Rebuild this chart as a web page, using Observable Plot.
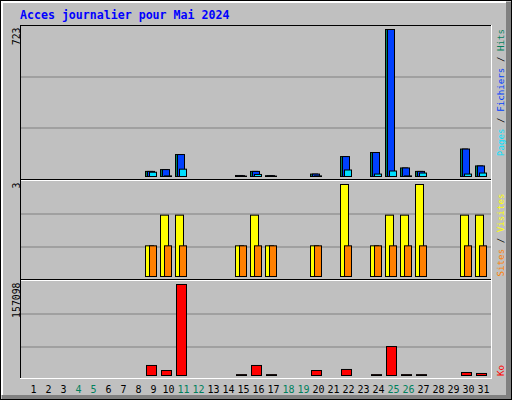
<!DOCTYPE html>
<html><head><meta charset="utf-8">
<script src="https://cdn.jsdelivr.net/npm/d3@7"></script>
<script src="https://cdn.jsdelivr.net/npm/@observablehq/plot@0.6"></script>
<style>
html,body{margin:0;padding:0;background:#fff;}
#chart{position:relative;width:512px;height:400px;background:#c0c0c0;overflow:hidden;}
#chart svg{position:absolute;left:0;top:0;background:transparent !important;overflow:visible;}
</style></head><body><div id="chart"></div>
<script>
// ---- data ----
const days   = d3.range(1, 32);
const hits   = [0,0,0,0,0,0,0,0,25,34,108,0,0,0,5,25,4,0,0,12,0,98,0,118,723,42,25,0,0,135,52];
const files  = [0,0,0,0,0,0,0,0,25,34,108,0,0,0,4,25,4,0,0,12,0,98,0,118,723,42,25,0,0,135,52];
const pages  = [0,0,0,0,0,0,0,0,21,3,36,0,0,0,2,10,2,0,0,3,0,32,0,12,27,3,17,0,0,12,17];
const visits = [0,0,0,0,0,0,0,0,1,2,2,0,0,0,1,2,1,0,0,1,0,3,0,1,2,2,3,0,0,2,2];
const sites  = [0,0,0,0,0,0,0,0,1,1,1,0,0,0,1,1,1,0,0,1,0,1,0,1,1,1,1,0,0,1,1];
const kbytes = [0,0,0,0,0,0,0,0,17300,8600,157098,0,0,0,1500,17300,1500,0,0,8600,0,10400,0,1500,50000,1500,1500,0,0,5200,3500];
const weekends = [4,5,11,12,18,19,25,26];
const titleText = "Acces journalier pour Mai 2024";
const maxLabels = ["723", "3", "157098"];
const seriesLabels = [["Pages", " / ", "Fichiers", " / ", "Hits"], ["Sites", " / ", "Visites"], ["Ko"]];

// ---- styles ----
const C = {hits:"#00805c", files:"#0040ff", pages:"#00e0ff", visits:"#ffff00", sites:"#ff8000", kbytes:"#ff0000", grid:"#808080", title:"#0000ff"};
const seriesColors = [[C.pages,"black",C.files,"black",C.hits],[C.sites,"black",C.visits],[C.kbytes]];
const MONO = "DejaVu Sans Mono";

const rows = days.map((day, i) => ({day, hits: hits[i], files: files[i], pages: pages[i], visits: visits[i], sites: sites[i], kbytes: kbytes[i]}));
const PX = 1 / 15; // one pixel in day units
function bar(key, from, to, fill) {
  return Plot.rect(rows.filter(d => d[key] > 0), {
    x1: d => d.day - 0.5 + from * PX,
    x2: d => d.day - 0.5 + to * PX,
    y1: () => 0, y2: key, fill, stroke: "black", strokeWidth: 1
  });
}

const chart = document.getElementById("chart");

// ---- decoration (frame, borders, title, series labels) ----
const deco = d3.create("svg").attr("width", 512).attr("height", 400);
deco.append("rect").attr("x", 506).attr("y", 2).attr("width", 6).attr("height", 398).attr("fill", "#808080");
deco.append("rect").attr("x", 2).attr("y", 395).attr("width", 510).attr("height", 5).attr("fill", "#808080");
deco.append("rect").attr("x", 1).attr("y", 1).attr("width", 505).attr("height", 2).attr("fill", "#ffffff");
deco.append("rect").attr("x", 1).attr("y", 1).attr("width", 2).attr("height", 394).attr("fill", "#ffffff");
deco.append("rect").attr("x", 0.5).attr("y", 0.5).attr("width", 511).attr("height", 399).attr("fill", "none").attr("stroke", "black");
const L = (x1, y1, x2, y2, c) => deco.append("line").attr("x1", x1).attr("y1", y1).attr("x2", x2).attr("y2", y2).attr("stroke", c).attr("stroke-width", 1);
L(20, 25.5, 492, 25.5, "black");
L(20.5, 25, 20.5, 379, "black");
L(491.5, 25, 491.5, 379, "white");
L(20, 378.5, 492, 378.5, "white");
L(21, 179.5, 491, 179.5, "black");
L(21, 180.5, 491, 180.5, "white");
L(21, 279.5, 491, 279.5, "black");
L(21, 280.5, 491, 280.5, "white");
deco.append("text").attr("x", 20).attr("y", 19).attr("fill", C.title)
  .attr("font-family", MONO).attr("font-weight", "bold").attr("font-size", 11.6).text(titleText);
const labelCenters = [92.5, 235, 370.5];
seriesLabels.forEach((parts, k) => {
  const t = deco.append("text").attr("transform", `translate(503.5,${labelCenters[k]}) rotate(-90)`)
    .attr("text-anchor", "middle").attr("font-family", MONO).attr("font-size", 9.2)
    .attr("xml:space", "preserve").style("white-space", "pre");
  parts.forEach((p, j) => t.append("tspan").attr("fill", seriesColors[k][j]).text(p));
});
chart.appendChild(deco.node());

// ---- panels ----
function panel({yMax, yRange, gridRows, top, bottom, label, marks, extra = []}) {
  const ys = d3.scaleLinear().domain([0, yMax]).range(yRange);
  return Plot.plot({
    width: 512, height: 400,
    marginTop: top, marginBottom: 400 - bottom, marginLeft: 21, marginRight: 21,
    style: {background: "transparent"},
    x: {domain: [0, 31], range: [18, 483], axis: null},
    y: {domain: [0, yMax], range: yRange, axis: null},
    marks: [
      Plot.ruleY(gridRows.map(r => ys.invert(r + 0.5)), {stroke: C.grid, strokeWidth: 1}),
      ...marks,
      Plot.text([label], {text: d => d, frameAnchor: "top-left", rotate: -90, textAnchor: "end", lineAnchor: "bottom",
        dx: -2, dy: 2, fontFamily: MONO, fontSize: 9.8, fill: "black"}),
      ...extra
    ]
  });
}

chart.appendChild(panel({
  yMax: d3.max(hits), yRange: [176.5, 29.5], gridRows: [76, 127], top: 25, bottom: 179, label: maxLabels[0],
  marks: [bar("hits", 0, 7, C.hits), bar("files", 2, 9, C.files), bar("pages", 4, 11, C.pages)]
}));
chart.appendChild(panel({
  yMax: d3.max(visits), yRange: [276.5, 184.5], gridRows: [213, 246], top: 180, bottom: 279, label: maxLabels[1],
  marks: [bar("visits", 0, 8, C.visits), bar("sites", 4, 11, C.sites)]
}));
const weekdays = days.filter(d => !weekends.includes(d));
const axisOpts = {anchor: "bottom", tickSize: 0, tickPadding: 7, fontSize: 10, fontFamily: MONO, label: null};
chart.appendChild(panel({
  yMax: d3.max(kbytes), yRange: [375.5, 284.5], gridRows: [313, 346], top: 280, bottom: 378, label: maxLabels[2],
  marks: [bar("kbytes", 1, 11, C.kbytes)],
  extra: [
    Plot.axisX(weekdays, {...axisOpts, fill: "black"}),
    Plot.axisX(weekends, {...axisOpts, fill: C.hits})
  ]
}));
</script></body></html>
